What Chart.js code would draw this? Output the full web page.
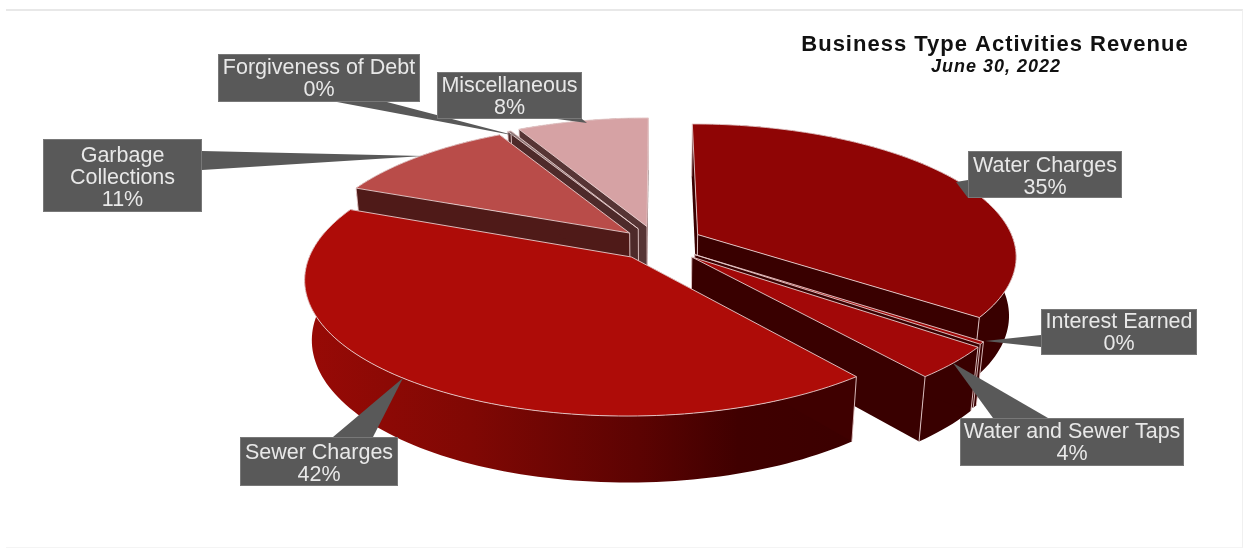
<!DOCTYPE html>
<html>
<head>
<meta charset="utf-8">
<title>Business Type Activities Revenue</title>
<script src="https://cdn.jsdelivr.net/npm/chart.js@4"></script>
<style>
  html, body { margin: 0; padding: 0; background: #fff; }
  #frame { position: absolute; left: 6px; top: 9px; width: 1236px; height: 536px;
           border-top: 2px solid #e8e8e8; border-right: 1px solid #f0f0f0; border-bottom: 1px solid #f4f4f4; }
  canvas { position: absolute; left: 0; top: 0; }
</style>
</head>
<body>
<div id="frame"></div>
<canvas id="revenue" width="1244" height="550"></canvas>
<script>
// Revenue shares, clockwise from twelve o'clock
const categories = ['Water Charges', 'Interest Earned', 'Water and Sewer Taps', 'Sewer Charges',
                    ['Garbage', 'Collections'], 'Forgiveness of Debt', 'Miscellaneous'];
const shares = [35.1, 0.3, 3.9, 41.8, 10.9, 0.2, 7.8];
const topColors = ['#8f0505', '#a00808', '#a20808', '#ae0c08', '#b94c49', '#8f7878', '#d6a2a4'];
const sideColors = ['#390000', '#390000', '#390000', '#3f0000', '#4f1a18', '#4e2a2a', '#573535'];
// How far each slice is pulled out of the pie (Chart.js moves an arc by a quarter of this)
const explode = [184, 186, 192, 168, 148, 160, 168];
const titleText = 'Business Type Activities Revenue';
const subtitleText = 'June 30, 2022';

// Camera used to tip the pie back: perspective on the plate, plus the drop of its rim
const camera = { cx: 657, cy: 243, tilt: 0.41, horizon: 850, converge: 0.02, drop: 60 };

function project(x, z, lower) {
  const { cx, cy, tilt, horizon, converge, drop } = camera;
  const w = 1 - z * tilt / horizon + (lower ? converge : 0);
  return { x: cx + x / w, y: cy + (tilt * z + (lower ? drop : 0)) / w };
}

function tracePath(ctx, pts, close) {
  ctx.beginPath();
  pts.forEach((p, i) => (i ? ctx.lineTo(p.x, p.y) : ctx.moveTo(p.x, p.y)));
  if (close) ctx.closePath();
}

// Callout boxes and their pointers, by category index
const callouts = [
  { box: [968, 151, 154, 47], dy: 3, wedge: [[968, 180], [956, 182], [968, 198]] },
  { box: [1041, 309, 156, 46], dy: 1.5, wedge: [[1041, 335], [985, 341], [1041, 347]] },
  { box: [960, 418, 224, 48], dy: 1.5, wedge: [[993, 418], [953, 363], [1048, 418]] },
  { box: [240, 437, 158, 49], dy: 3, wedge: [[333, 437], [403, 378], [373, 437]] },
  { box: [43, 139, 159, 73], dy: 3, wedge: [[202, 151], [423, 156], [202, 170]] },
  { box: [218, 54, 202, 48], dy: 1.5, wedge: [[337, 102], [517, 136], [387, 102]] },
  { box: [437, 72, 145, 47], dy: 1.5, wedge: [[557, 119], [587, 123], [582, 119]] }
];

// Shaded pie: walls and plate of every slice are taken from the chart's arc elements
const tiltedPie = {
  id: 'tiltedPie',
  beforeDatasetDraw(chart, args) {
    const ctx = chart.ctx;
    const arcs = chart.getDatasetMeta(args.index).data;
    const slices = arcs.map((arc, i) => {
      const { startAngle, endAngle, outerRadius } = arc.getProps(['startAngle', 'endAngle', 'outerRadius'], true);
      const mid = (startAngle + endAngle) / 2;
      const shift = (arc.options.offset || 0) / 4;
      const ox = Math.cos(mid) * shift, oz = Math.sin(mid) * shift;
      const rim = [];
      const steps = Math.max(2, Math.ceil((endAngle - startAngle) * 40));
      for (let s = 0; s <= steps; s++) {
        const a = startAngle + (endAngle - startAngle) * s / steps;
        rim.push([ox + Math.cos(a) * outerRadius, oz + Math.sin(a) * outerRadius]);
      }
      const depth = oz + Math.sin(mid) * outerRadius / 2;
      return { i, arc, rim, tip: [ox, oz], depth };
    }).sort((a, b) => a.depth - b.depth);

    ctx.save();
    ctx.lineJoin = 'round';
    slices.forEach(({ i, arc, rim, tip }) => {
      const upper = rim.map(p => project(p[0], p[1], false));
      const lower = rim.map(p => project(p[0], p[1], true));
      const tipUp = project(tip[0], tip[1], false);
      const tipLow = project(tip[0], tip[1], true);
      const edge = arc.options.borderColor;
      const first = 0, last = rim.length - 1;

      // Sewer Charges carries a lit band around its long rim
      let rimFill = sideColors[i];
      if (i === 3) {
        const g = ctx.createLinearGradient(305, 0, 860, 0);
        g.addColorStop(0, '#980a06');
        g.addColorStop(0.3, '#800804');
        g.addColorStop(0.6, '#5c0302');
        g.addColorStop(0.78, '#400000');
        g.addColorStop(1, '#3b0000');
        rimFill = g;
      }
      ctx.fillStyle = rimFill;
      tracePath(ctx, upper.concat(lower.slice().reverse()), true);
      ctx.fill();

      ctx.fillStyle = sideColors[i];
      [[upper[first], lower[first]], [upper[last], lower[last]]].forEach(([u, l]) => {
        tracePath(ctx, [tipUp, u, l, tipLow], true);
        ctx.fill();
      });

      ctx.strokeStyle = edge;
      ctx.lineWidth = 1;
      [[tipUp, tipLow], [upper[first], lower[first]], [upper[last], lower[last]]].forEach(([u, l]) => {
        tracePath(ctx, [u, l], false);
        ctx.stroke();
      });

      ctx.fillStyle = arc.options.backgroundColor;
      tracePath(ctx, [tipUp].concat(upper), true);
      ctx.fill();
      ctx.lineWidth = arc.options.borderWidth;
      ctx.stroke();
    });
    ctx.restore();
    return false;
  },
  afterDatasetsDraw(chart) {
    const ctx = chart.ctx;
    ctx.save();
    // Pointers first, then boxes with their text
    callouts.forEach(c => {
      ctx.fillStyle = '#595959';
      tracePath(ctx, c.wedge.map(p => ({ x: p[0], y: p[1] })), true);
      ctx.fill();
    });
    callouts.forEach((c, i) => {
      const [x, y, w, h] = c.box;
      ctx.fillStyle = '#595959';
      ctx.fillRect(x, y, w, h);
      ctx.strokeStyle = '#787878';
      ctx.lineWidth = 1;
      ctx.strokeRect(x + 0.5, y + 0.5, w - 1, h - 1);
      const name = chart.data.labels[i];
      const lines = [].concat(name, Math.round(shares[i]) + '%');
      ctx.fillStyle = '#e8e8e8';
      ctx.font = '21.5px "Liberation Sans", Arial, sans-serif';
      ctx.textAlign = 'center';
      ctx.textBaseline = 'middle';
      lines.forEach((t, n) => {
        ctx.fillText(t, x + w / 2, y + h / 2 + c.dy + (n - (lines.length - 1) / 2) * 22);
      });
    });
    ctx.fillStyle = '#111';
    ctx.textAlign = 'center';
    ctx.textBaseline = 'middle';
    ctx.font = 'bold 22px "Liberation Sans", Arial, sans-serif';
    ctx.letterSpacing = '1px';
    ctx.fillText(titleText, 995, 45);
    ctx.font = 'italic bold 18px "Liberation Sans", Arial, sans-serif';
    ctx.letterSpacing = '1px';
    ctx.fillText(subtitleText, 996, 67);
    ctx.restore();
  }
};

new Chart(document.getElementById('revenue'), {
  type: 'pie',
  data: {
    labels: categories,
    datasets: [{
      data: shares,
      backgroundColor: topColors,
      borderColor: 'rgba(232,205,205,0.9)',
      borderWidth: 1,
      offset: explode,
      radius: 317
    }]
  },
  options: {
    responsive: false,
    animation: false,
    plugins: { legend: { display: false }, tooltip: { enabled: false } }
  },
  plugins: [tiltedPie]
});
</script>
</body>
</html>
